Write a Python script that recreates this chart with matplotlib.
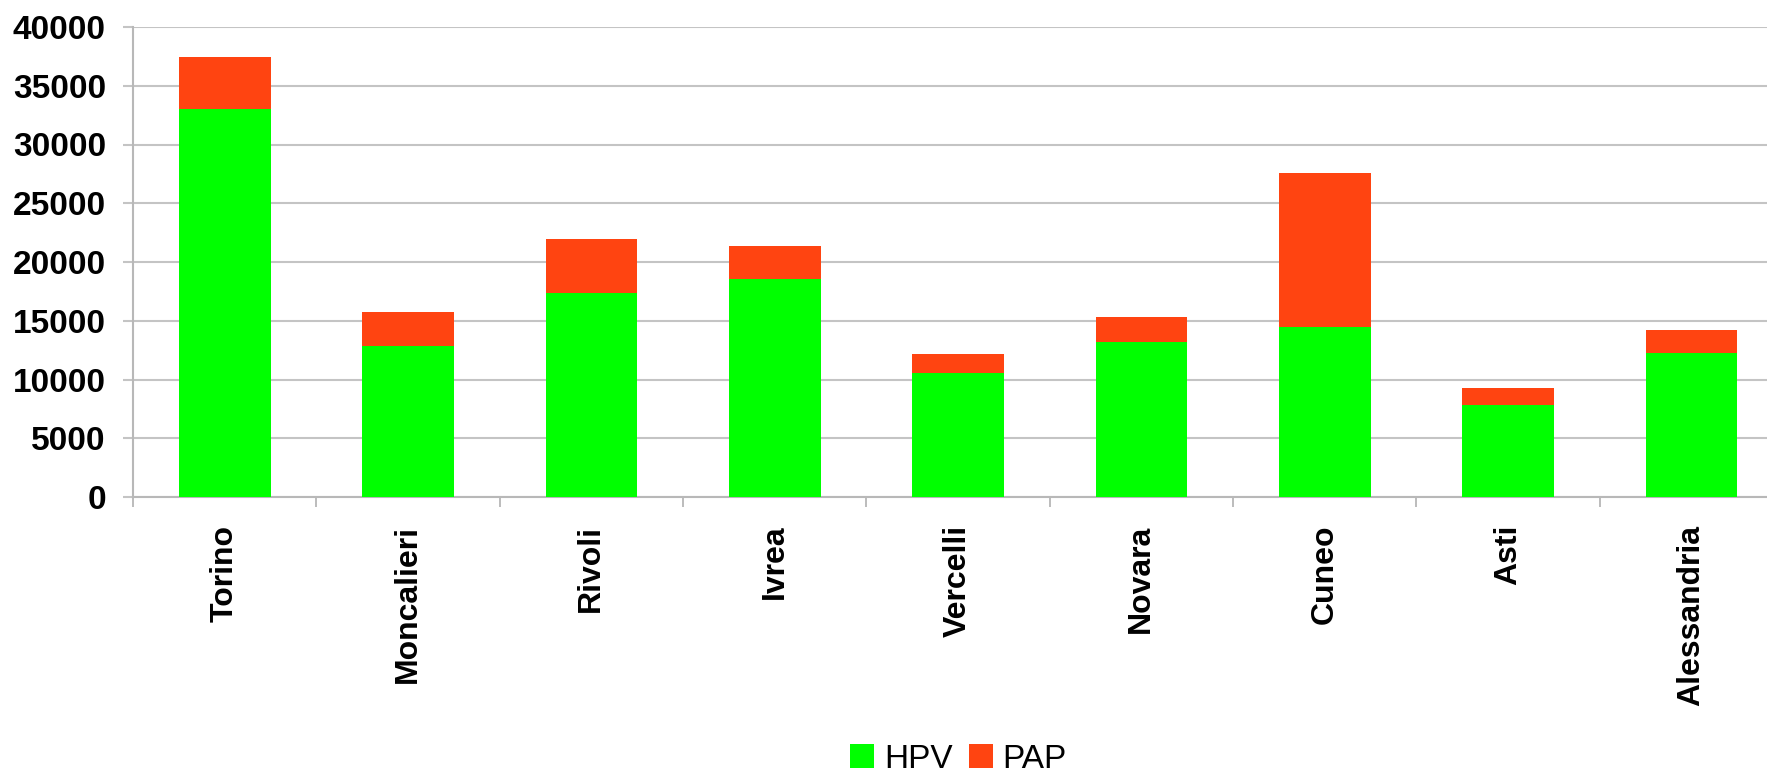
import matplotlib
matplotlib.use("Agg")
import matplotlib.pyplot as plt
import numpy as np

categories = ["Torino", "Moncalieri", "Rivoli", "Ivrea", "Vercelli",
              "Novara", "Cuneo", "Asti", "Alessandria"]
hpv = [33000, 12880, 17400, 18520, 10580, 13160, 14490, 7860, 12280]
totals = [37470, 15770, 21980, 21390, 12200, 15340, 27600, 9300, 14240]
pap = [t - h for t, h in zip(totals, hpv)]
yticks = [0, 5000, 10000, 15000, 20000, 25000, 30000, 35000, 40000]

plt.rcParams['font.family'] = ['Liberation Sans', 'DejaVu Sans']

W, H = 1767, 774
fig = plt.figure(figsize=(W / 100, H / 100), dpi=100)
ax = fig.add_axes([133 / W, 1 - 497 / H, 1650 / W, 470 / H])

x = np.arange(len(categories))
green = "#00FF00"
red = "#FF4411"
ax.bar(x, hpv, width=0.5, color=green, label="HPV", zorder=3)
ax.bar(x, pap, width=0.5, bottom=hpv, color=red, label="PAP", zorder=3)

ax.set_xlim(-0.5, len(categories) - 0.5)
ax.set_ylim(0, 40000)
ax.set_yticks(yticks)
ax.set_yticklabels([str(v) for v in yticks], fontsize=24, fontweight='bold')
ax.yaxis.grid(True, color="#C4C4C4", linewidth=1.5, zorder=0)
ax.set_axisbelow(True)

ax.set_xticks(x)
ax.set_xticklabels(categories, rotation=90, fontsize=23, fontweight='bold',
                   ha='center', va='top')
ax.set_xticks(np.arange(len(categories) + 1) - 0.5, minor=True)
ax.tick_params(axis='x', which='major', length=0, pad=20)
ax.tick_params(axis='x', which='minor', length=7.5, width=1.2, color="#B0B0B0")
ax.tick_params(axis='y', length=7.5, width=1.5, color="#C4C4C4", pad=12)

for s in ["top", "right"]:
    ax.spines[s].set_visible(False)
for s in ["left", "bottom"]:
    ax.spines[s].set_color("#B8B8B8")
    ax.spines[s].set_linewidth(1.5)

fig.legend(loc='center', bbox_to_anchor=(958.5 / W, 1 - 759 / H), ncol=2,
           frameon=False, fontsize=24, handlelength=0.72, handleheight=0.72,
           handletextpad=0.3, columnspacing=0.48, borderpad=0, borderaxespad=0)

fig.savefig("out.png", dpi=100)
